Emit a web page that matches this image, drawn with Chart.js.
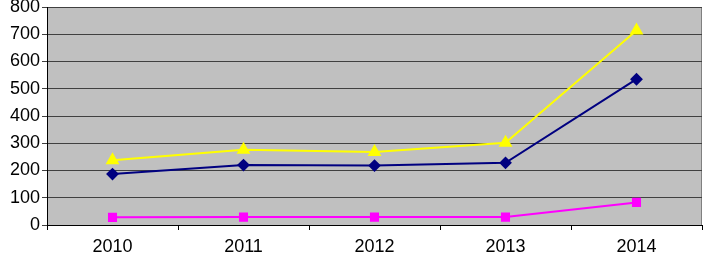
<!DOCTYPE html>
<html>
<head>
<meta charset="utf-8">
<script src="https://cdn.jsdelivr.net/npm/chart.js@4"></script>
<style>
  html, body { margin: 0; padding: 0; background: #fff; }
  #wrap { width: 703px; height: 254px; }
</style>
</head>
<body>
<div id="wrap"><canvas id="chart" width="703" height="254"></canvas></div>
<script>
const years = ['2010', '2011', '2012', '2013', '2014'];
const navySeries = [187, 220, 218, 228, 535];
const pinkSeries = [28, 29, 29, 29, 83];
const yellowSeries = [238, 276, 268, 302, 714];
const yTicks = [0, 100, 200, 300, 400, 500, 600, 700, 800];

// grey plot area like the old Excel charts
const plotBg = {
    id: 'plotBg',
    beforeDraw(chart) {
        const a = chart.chartArea;
        const ctx = chart.ctx;
        ctx.save();
        ctx.fillStyle = '#c0c0c0';
        ctx.fillRect(a.left, a.top, a.right - a.left, a.bottom - a.top);
        ctx.strokeStyle = '#808080';
        ctx.lineWidth = 1;
        ctx.strokeRect(a.left + 0.5, a.top + 0.5, a.right - a.left - 1, a.bottom - a.top);
        ctx.restore();
    }
};

const canvasElement = document.getElementById('chart');
const ctx = canvasElement.getContext('2d');
new Chart(ctx, {
    type: 'line',
    data: {
        labels: years,
        datasets: [{
            data: navySeries,
            borderColor: '#000080',
            backgroundColor: '#000080',
            borderWidth: 2,
            pointStyle: 'rectRot',
            pointRadius: 5
        }, {
            data: pinkSeries,
            borderColor: '#ff00ff',
            backgroundColor: '#ff00ff',
            borderWidth: 2,
            pointStyle: 'rect',
            pointRadius: 5
        }, {
            data: yellowSeries,
            borderColor: '#ffff00',
            backgroundColor: '#ffff00',
            borderWidth: 2,
            pointStyle: 'triangle',
            pointRadius: 6
        }]
    },
    options: {
        responsive: false,
        animation: false,
        layout: { autoPadding: false, padding: { top: 7, right: 1, bottom: 0, left: 0 } },
        plugins: { legend: { display: false }, tooltip: { enabled: false } },
        scales: {
            x: {
                offset: true,
                grid: { offset: true, drawOnChartArea: false, color: '#000', tickLength: 5 },
                border: { color: '#000', width: 1 },
                ticks: { color: '#000', font: { family: 'Liberation Sans', size: 18 }, padding: 6 },
                afterFit(s) { s.height = 29; s.paddingLeft = 0; s.paddingRight = 0; }
            },
            y: {
                min: 0,
                max: 800,
                afterBuildTicks(s) { s.ticks = yTicks.map(v => ({ value: v })); },
                grid: { color: '#404040', tickLength: 5 },
                border: { color: '#000', width: 1 },
                ticks: { color: '#000', font: { family: 'Liberation Sans', size: 18 }, padding: 2 },
                afterFit(s) { s.width = 47; s.paddingTop = 0; s.paddingBottom = 0; }
            }
        }
    },
    plugins: [plotBg]
});
</script>
</body>
</html>
